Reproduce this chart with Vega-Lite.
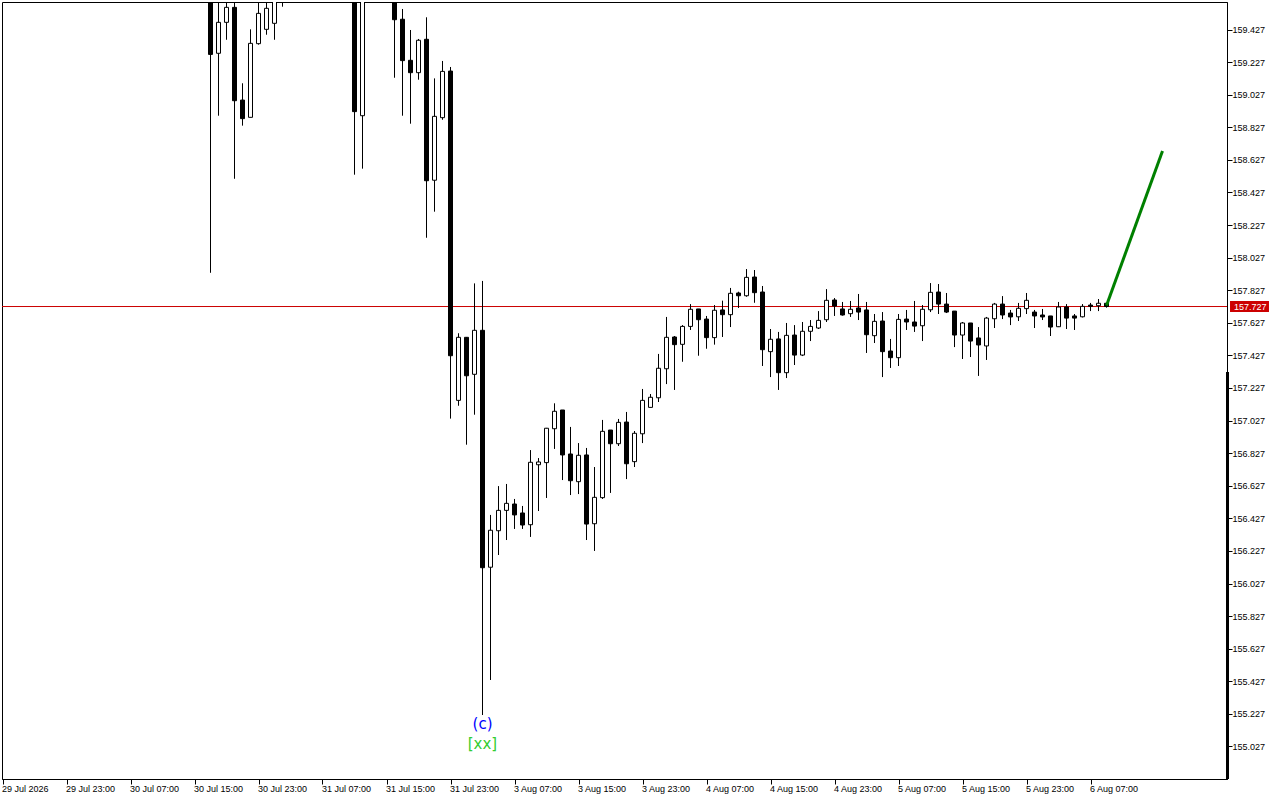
{
  "$schema": "https://vega.github.io/schema/vega-lite/v6.json",
  "width": 1225,
  "height": 777,
  "autosize": "none",
  "padding": {"left": 2, "top": 2, "right": 53, "bottom": 21},
  "background": "white",
  "config": {
    "view": {"stroke": "black", "strokeWidth": 1},
    "axis": {
      "labelFont": "Liberation Sans",
      "labelFontSize": 9,
      "labelColor": "black",
      "tickColor": "black",
      "domainColor": "black",
      "tickSize": 5,
      "grid": false,
      "title": null,
      "labelBound": false
    }
  },
  "datasets": {
    "candles": [
      {"bar":26,"open":159.75,"high":159.85,"low":157.934,"close":159.274},
      {"bar":27,"open":159.281,"high":159.62,"low":158.898,"close":159.471},
      {"bar":28,"open":159.471,"high":159.62,"low":159.364,"close":159.563},
      {"bar":29,"open":159.563,"high":159.62,"low":158.511,"close":158.99},
      {"bar":30,"open":158.994,"high":159.097,"low":158.837,"close":158.88},
      {"bar":31,"open":158.888,"high":159.428,"low":158.888,"close":159.342},
      {"bar":32,"open":159.34,"high":159.62,"low":159.334,"close":159.526},
      {"bar":33,"open":159.428,"high":159.62,"low":159.395,"close":159.557},
      {"bar":34,"open":159.465,"high":159.7,"low":159.364,"close":159.63},
      {"bar":35,"open":159.66,"high":159.8,"low":159.567,"close":159.75},
      {"bar":44,"open":159.9,"high":160,"low":158.536,"close":158.923},
      {"bar":45,"open":158.898,"high":159.9,"low":158.573,"close":159.8},
      {"bar":49,"open":159.75,"high":159.85,"low":159.131,"close":159.487},
      {"bar":50,"open":159.49,"high":159.553,"low":158.898,"close":159.236},
      {"bar":51,"open":159.238,"high":159.424,"low":158.849,"close":159.162},
      {"bar":52,"open":159.162,"high":159.369,"low":159.119,"close":159.361},
      {"bar":53,"open":159.367,"high":159.502,"low":158.149,"close":158.499},
      {"bar":54,"open":158.502,"high":159.127,"low":158.309,"close":158.894},
      {"bar":55,"open":158.886,"high":159.234,"low":158.873,"close":159.17},
      {"bar":56,"open":159.172,"high":159.197,"low":157.039,"close":157.425},
      {"bar":57,"open":157.151,"high":157.563,"low":157.118,"close":157.538},
      {"bar":58,"open":157.538,"high":157.54,"low":156.879,"close":157.302},
      {"bar":59,"open":157.311,"high":157.869,"low":157.063,"close":157.581},
      {"bar":60,"open":157.581,"high":157.884,"low":155.22,"close":156.124},
      {"bar":61,"open":156.127,"high":156.448,"low":155.435,"close":156.354},
      {"bar":62,"open":156.351,"high":156.625,"low":156.202,"close":156.476},
      {"bar":63,"open":156.476,"high":156.638,"low":156.294,"close":156.519},
      {"bar":64,"open":156.515,"high":156.546,"low":156.362,"close":156.448},
      {"bar":65,"open":156.46,"high":156.503,"low":156.362,"close":156.386},
      {"bar":66,"open":156.388,"high":156.846,"low":156.313,"close":156.771},
      {"bar":67,"open":156.756,"high":156.797,"low":156.472,"close":156.773},
      {"bar":68,"open":156.769,"high":156.982,"low":156.552,"close":156.98},
      {"bar":69,"open":156.977,"high":157.133,"low":156.853,"close":157.084},
      {"bar":70,"open":157.092,"high":157.092,"low":156.662,"close":156.816},
      {"bar":71,"open":156.822,"high":156.988,"low":156.57,"close":156.658},
      {"bar":72,"open":156.652,"high":156.889,"low":156.576,"close":156.814},
      {"bar":73,"open":156.816,"high":156.859,"low":156.294,"close":156.392},
      {"bar":74,"open":156.394,"high":156.742,"low":156.227,"close":156.556},
      {"bar":75,"open":156.554,"high":157.031,"low":156.546,"close":156.961},
      {"bar":76,"open":156.969,"high":156.969,"low":156.583,"close":156.885},
      {"bar":77,"open":156.885,"high":157.037,"low":156.871,"close":157.016},
      {"bar":78,"open":157.018,"high":157.08,"low":156.668,"close":156.762},
      {"bar":79,"open":156.775,"high":156.963,"low":156.742,"close":156.949},
      {"bar":80,"open":156.946,"high":157.221,"low":156.889,"close":157.151},
      {"bar":81,"open":157.108,"high":157.19,"low":157.108,"close":157.17},
      {"bar":82,"open":157.167,"high":157.436,"low":157.141,"close":157.348},
      {"bar":83,"open":157.345,"high":157.663,"low":157.251,"close":157.538},
      {"bar":84,"open":157.54,"high":157.546,"low":157.215,"close":157.493},
      {"bar":85,"open":157.495,"high":157.613,"low":157.388,"close":157.605},
      {"bar":86,"open":157.605,"high":157.742,"low":157.583,"close":157.71},
      {"bar":87,"open":157.712,"high":157.712,"low":157.425,"close":157.646},
      {"bar":88,"open":157.65,"high":157.669,"low":157.468,"close":157.536},
      {"bar":89,"open":157.536,"high":157.736,"low":157.493,"close":157.704},
      {"bar":90,"open":157.706,"high":157.763,"low":157.54,"close":157.677},
      {"bar":91,"open":157.677,"high":157.841,"low":157.601,"close":157.808},
      {"bar":92,"open":157.81,"high":157.818,"low":157.718,"close":157.793},
      {"bar":93,"open":157.793,"high":157.957,"low":157.787,"close":157.906},
      {"bar":94,"open":157.908,"high":157.951,"low":157.75,"close":157.812},
      {"bar":95,"open":157.816,"high":157.853,"low":157.362,"close":157.462},
      {"bar":96,"open":157.45,"high":157.589,"low":157.294,"close":157.526},
      {"bar":97,"open":157.528,"high":157.571,"low":157.215,"close":157.321},
      {"bar":98,"open":157.321,"high":157.626,"low":157.288,"close":157.55},
      {"bar":99,"open":157.552,"high":157.613,"low":157.368,"close":157.429},
      {"bar":100,"open":157.429,"high":157.632,"low":157.423,"close":157.575},
      {"bar":101,"open":157.575,"high":157.644,"low":157.515,"close":157.605},
      {"bar":102,"open":157.595,"high":157.699,"low":157.589,"close":157.642},
      {"bar":103,"open":157.646,"high":157.834,"low":157.632,"close":157.765},
      {"bar":104,"open":157.767,"high":157.779,"low":157.669,"close":157.73},
      {"bar":105,"open":157.712,"high":157.755,"low":157.671,"close":157.675},
      {"bar":106,"open":157.683,"high":157.761,"low":157.663,"close":157.71},
      {"bar":107,"open":157.718,"high":157.804,"low":157.644,"close":157.693},
      {"bar":108,"open":157.706,"high":157.755,"low":157.442,"close":157.554},
      {"bar":109,"open":157.548,"high":157.681,"low":157.503,"close":157.636},
      {"bar":110,"open":157.638,"high":157.693,"low":157.294,"close":157.45},
      {"bar":111,"open":157.454,"high":157.528,"low":157.35,"close":157.413},
      {"bar":112,"open":157.413,"high":157.681,"low":157.362,"close":157.648},
      {"bar":113,"open":157.65,"high":157.706,"low":157.583,"close":157.632},
      {"bar":114,"open":157.632,"high":157.761,"low":157.571,"close":157.607},
      {"bar":115,"open":157.609,"high":157.736,"low":157.515,"close":157.71},
      {"bar":116,"open":157.707,"high":157.871,"low":157.693,"close":157.814},
      {"bar":117,"open":157.816,"high":157.865,"low":157.681,"close":157.742},
      {"bar":118,"open":157.742,"high":157.81,"low":157.687,"close":157.693},
      {"bar":119,"open":157.699,"high":157.699,"low":157.478,"close":157.552},
      {"bar":120,"open":157.552,"high":157.632,"low":157.405,"close":157.626},
      {"bar":121,"open":157.626,"high":157.626,"low":157.417,"close":157.515},
      {"bar":122,"open":157.534,"high":157.601,"low":157.301,"close":157.491},
      {"bar":123,"open":157.485,"high":157.663,"low":157.399,"close":157.656},
      {"bar":124,"open":157.652,"high":157.749,"low":157.595,"close":157.742},
      {"bar":125,"open":157.742,"high":157.791,"low":157.65,"close":157.675},
      {"bar":126,"open":157.687,"high":157.706,"low":157.613,"close":157.663},
      {"bar":127,"open":157.664,"high":157.749,"low":157.638,"close":157.716},
      {"bar":128,"open":157.714,"high":157.81,"low":157.681,"close":157.765},
      {"bar":129,"open":157.693,"high":157.706,"low":157.595,"close":157.669},
      {"bar":130,"open":157.675,"high":157.712,"low":157.644,"close":157.663},
      {"bar":131,"open":157.669,"high":157.669,"low":157.546,"close":157.601},
      {"bar":132,"open":157.603,"high":157.755,"low":157.601,"close":157.724},
      {"bar":133,"open":157.724,"high":157.742,"low":157.589,"close":157.656},
      {"bar":134,"open":157.669,"high":157.681,"low":157.583,"close":157.656},
      {"bar":135,"open":157.664,"high":157.742,"low":157.66,"close":157.728},
      {"bar":136,"open":157.736,"high":157.749,"low":157.699,"close":157.728},
      {"bar":137,"open":157.732,"high":157.773,"low":157.699,"close":157.747},
      {"bar":138,"open":157.747,"high":157.747,"low":157.72,"close":157.727}
    ]
  },
  "data": {"name": "candles"},
  "layer": [
    {
      "data": {"values": [{"bar0": -0.0625, "bar1": 153.0625, "price": 157.727}]},
      "mark": {"type": "rule", "color": "#cc0000", "strokeWidth": 1},
      "encoding": {
        "x": {
          "field": "bar0",
          "type": "quantitative",
          "scale": {"domain": [-0.0625, 153.0625], "nice": false, "zero": false, "padding": 0},
          "axis": {
            "orient": "bottom",
            "values": [0, 8, 16, 24, 32, 40, 48, 56, 64, 72, 80, 88, 96, 104, 112, 120, 128, 136],
            "tickCount": 40,
            "labelAlign": "left",
            "labelPadding": 0,
            "labelOffset": -1,
            "labelOverlap": false,
            "labelExpr": "['29 Jul 2026','29 Jul 23:00','30 Jul 07:00','30 Jul 15:00','30 Jul 23:00','31 Jul 07:00','31 Jul 15:00','31 Jul 23:00','3 Aug 07:00','3 Aug 15:00','3 Aug 23:00','4 Aug 07:00','4 Aug 15:00','4 Aug 23:00','5 Aug 07:00','5 Aug 15:00','5 Aug 23:00','6 Aug 07:00'][datum.value / 8]"
          }
        },
        "x2": {"field": "bar1"},
        "y": {
          "field": "price",
          "type": "quantitative",
          "scale": {"domain": [154.8274, 159.5958], "nice": false, "zero": false},
          "axis": {
            "orient": "right",
            "values": [159.427, 159.227, 159.027, 158.827, 158.627, 158.427, 158.227, 158.027, 157.827, 157.627, 157.427, 157.227, 157.027, 156.827, 156.627, 156.427, 156.227, 156.027, 155.827, 155.627, 155.427, 155.227, 155.027],
            "tickCount": 40,
            "format": ".3f",
            "labelPadding": 0,
            "labelOverlap": false
          }
        }
      }
    },
    {
      "mark": {"type": "rule", "color": "black", "strokeWidth": 1, "clip": true},
      "encoding": {
        "x": {"field": "bar", "type": "quantitative"},
        "y": {"field": "low", "type": "quantitative"},
        "y2": {"field": "high"}
      }
    },
    {
      "mark": {"type": "bar", "orient": "vertical", "size": 4, "stroke": "black", "strokeWidth": 1, "clip": true},
      "encoding": {
        "x": {"field": "bar", "type": "quantitative"},
        "y": {"field": "open", "type": "quantitative"},
        "y2": {"field": "close"},
        "fill": {"condition": {"test": "datum.close < datum.open", "value": "black"}, "value": "white"}
      }
    },
    {
      "data": {"values": [{"bar": 138, "price": 157.733}, {"bar": 145, "price": 158.681}]},
      "mark": {"type": "line", "color": "#008000", "strokeWidth": 3},
      "encoding": {
        "x": {"field": "bar", "type": "quantitative"},
        "y": {"field": "price", "type": "quantitative"}
      }
    },
    {
      "data": {"values": [
        {"bar": 60, "price": 155.162, "label": "(c)", "colour": "#0000ff"},
        {"bar": 60, "price": 155.04, "label": "[xx]", "colour": "#32cd32"}
      ]},
      "mark": {"type": "text", "font": "DejaVu Sans", "fontSize": 15, "align": "center", "baseline": "middle"},
      "encoding": {
        "x": {"field": "bar", "type": "quantitative"},
        "y": {"field": "price", "type": "quantitative"},
        "text": {"field": "label"},
        "color": {"field": "colour", "type": "nominal", "scale": null}
      }
    },
    {
      "data": {"values": [{"top": 157.325, "bottom": 154.8274, "bar": 153.125}]},
      "mark": {"type": "rule", "color": "black", "strokeWidth": 3},
      "encoding": {
        "x": {"field": "bar", "type": "quantitative"},
        "y": {"field": "top", "type": "quantitative"},
        "y2": {"field": "bottom"}
      }
    },
    {
      "data": {"values": [{"bar0": 153.44, "bar1": 158.31, "top": 157.761, "bottom": 157.693}]},
      "mark": {"type": "rect", "color": "#cc0000"},
      "encoding": {
        "x": {"field": "bar0", "type": "quantitative"},
        "x2": {"field": "bar1"},
        "y": {"field": "top", "type": "quantitative"},
        "y2": {"field": "bottom"}
      }
    },
    {
      "data": {"values": [{"bar": 153.94, "price": 157.727, "label": "157.727"}]},
      "mark": {"type": "text", "font": "Liberation Sans", "fontSize": 9, "align": "left", "baseline": "middle", "color": "white"},
      "encoding": {
        "x": {"field": "bar", "type": "quantitative"},
        "y": {"field": "price", "type": "quantitative"},
        "text": {"field": "label"}
      }
    }
  ]
}
